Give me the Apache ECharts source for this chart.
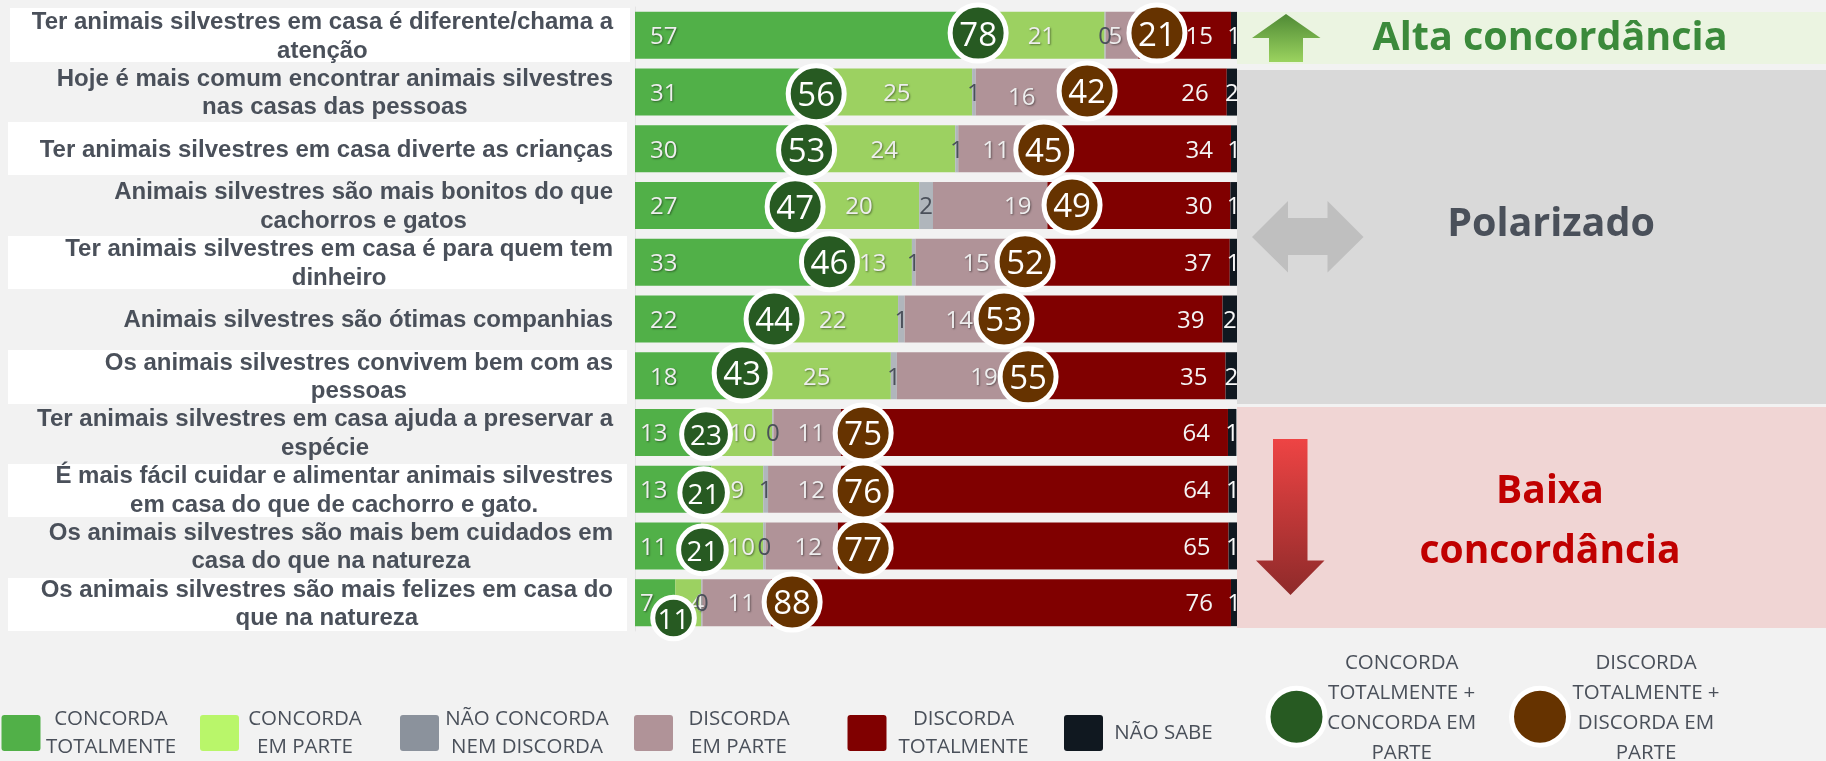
<!DOCTYPE html>
<html><head><meta charset="utf-8">
<style>html,body{margin:0;padding:0;background:#f2f2f2}#c{width:1826px;height:761px}</style>
<script src="https://cdn.jsdelivr.net/npm/echarts@6/dist/echarts.min.js"></script>
</head><body><div id="c"></div>
<script>
const categories = [
  "Ter animais silvestres em casa é diferente/chama a\natenção",
  "Hoje é mais comum encontrar animais silvestres\nnas casas das pessoas",
  "Ter animais silvestres em casa diverte as crianças",
  "Animais silvestres são mais bonitos do que\ncachorros e gatos",
  "Ter animais silvestres em casa é para quem tem\ndinheiro",
  "Animais silvestres são ótimas companhias",
  "Os animais silvestres convivem bem com as\npessoas",
  "Ter animais silvestres em casa ajuda a preservar a\nespécie",
  "É mais fácil cuidar e alimentar animais silvestres\nem casa do que de cachorro e gato.",
  "Os animais silvestres são mais bem cuidados em\ncasa do que na natureza",
  "Os animais silvestres são mais felizes em casa do\nque na natureza"
];
const concordaTotalmente = [57, 31, 29.6, 27.2, 33, 22, 17.9, 13, 12.7, 11, 6.7];
const concordaEmParte    = [21, 25, 23.6, 20, 13, 21.7, 24.6, 9.8, 8.6, 10.3, 4.3];
const naoConcorda        = [0.2, 0.6, 0.5, 2.3, 0.6, 1.1, 1, 0.2, 0.8, 0.4, 0.2];
const discordaEmParte    = [5.4, 15.9, 11.2, 19, 15, 14, 19.4, 11.2, 12.1, 12, 11.4];
const discordaTotalmente = [15.4, 25.8, 34.1, 30.4, 37.2, 38.8, 35.2, 64.3, 64.4, 64.9, 76.4];
const naoSabe            = [1, 1.7, 1, 1.1, 1.2, 2.4, 1.9, 1.4, 1.4, 1.4, 1];
const totalConcorda = [78, 56, 53, 47, 46, 44, 43, 23, 21, 21, 11];
const totalDiscorda = [21, 42, 45, 49, 52, 53, 55, 75, 76, 77, 88];
const circuloConcordaX = [57, 30.1, 28.5, 26.6, 32.3, 23.1, 17.8, 11.8, 11.4, 11.2, 6.4];
const circuloConcordaLinha = [-0.04, 1.03, 2.02, 3.02, 3.99, 5, 5.95, 7.03, 8.06, 9.07, 10.27];
const circuloDiscordaX = [86.7, 75.1, 67.9, 72.6, 64.8, 61.3, 65.3, 37.9, 37.9, 37.9, 26.1];
const circuloDiscordaLinha = [-0.04, 0.98, 2.02, 2.99, 3.99, 5, 6.02, 7.01, 8.03, 9.04, 9.99];
const legendNames = ["CONCORDA\nTOTALMENTE","CONCORDA\nEM PARTE","NÃO CONCORDA\nNEM DISCORDA","DISCORDA\nEM PARTE","DISCORDA\nTOTALMENTE","NÃO SABE"];
const circleLegendNames = ["CONCORDA\nTOTALMENTE +\nCONCORDA EM\nPARTE","DISCORDA\nTOTALMENTE +\nDISCORDA EM\nPARTE"];

const TXT='#4a505a', OS='"Open Sans"';
const shadow={textShadowColor:'rgba(0,0,0,0.45)',textShadowBlur:2,textShadowOffsetX:1,textShadowOffsetY:1};
function barSeries(name,data,color,labelCfg,itemLabel){
  return {type:'bar',name,stack:'t',yAxisIndex:0,xAxisIndex:0,barWidth:47,z:2,
    itemStyle:{color},
    label:Object.assign({show:true,fontFamily:OS,fontSize:24,offset:[0,2],formatter:p=>Math.round(p.value)},labelCfg),
    data:data.map((v,i)=>{const o={value:v};const l=itemLabel&&itemLabel(v,i);if(l)o.label=l;return o;})};
}
function circleSeries(xs,rows,totals,color,sizeFn,fontFn){
  return {type:'scatter',xAxisIndex:0,yAxisIndex:1,z:6,
    data:xs.map((x,i)=>({value:[x,rows[i],totals[i]],label:{fontSize:fontFn(totals[i])}})),
    symbol:'circle',symbolSize:v=>sizeFn(v[2]),
    itemStyle:{color,borderColor:'#fff',borderWidth:5,opacity:1},
    label:{show:true,position:'inside',color:'#fff',fontFamily:OS,offset:[0,3],
      formatter:p=>p.value[2]}};
}
const greenSize=v=>Math.min(56,35+0.6*v);
const brownSize=()=>56;
const greenFont=v=>v>=40?33:28;
const brownFont=()=>33;
const lightLabel=Object.assign({color:'#eeeeee'},shadow);
const series=[
  barSeries('Concorda totalmente',concordaTotalmente,'#51b048',Object.assign({position:'insideLeft',distance:15},lightLabel),
    v=>v<15?{distance:5}:null),
  barSeries('Concorda em parte',concordaEmParte,'#9cd161',Object.assign({position:'inside'},lightLabel),
    (v,i)=>i>=9?{offset:[9,2]}:null),
  barSeries('Não concorda nem discorda',naoConcorda,'#b0b6bc',{position:'inside',color:TXT}),
  barSeries('Discorda em parte',discordaEmParte,'#b09398',Object.assign({position:'insideRight',distance:16},lightLabel),
    (v,i)=>i===1?{distance:36,offset:[0,6]}:null),
  barSeries('Discorda totalmente',discordaTotalmente,'#800000',{position:'insideRight',distance:18,color:'#f4f4f4'}),
  barSeries('Não sabe',naoSabe,'#101820',{position:'inside',color:'#f8f8f8'}),
  circleSeries(circuloConcordaX,circuloConcordaLinha,totalConcorda,'#275a22',greenSize,greenFont),
  circleSeries(circuloDiscordaX,circuloDiscordaLinha,totalDiscorda,'#663300',brownSize,brownFont)
];

const bands=[[10,8,620,54],[8,122,619,53],[8,236,619,53],[8,350,619,54],[8,464,619,53],[8,578,619,53]];
const graphic=[];
bands.forEach(b=>graphic.push({type:'rect',z:0,silent:true,shape:{x:b[0],y:b[1],width:b[2],height:b[3]},style:{fill:'#fff'}}));
graphic.push({type:'rect',z:0,shape:{x:1237,y:12,width:589,height:52},style:{fill:'#ebf4e1'}});
graphic.push({type:'rect',z:0,shape:{x:1237,y:70,width:589,height:334},style:{fill:'#d9d9d9'}});
graphic.push({type:'rect',z:0,shape:{x:1237,y:407,width:589,height:221},style:{fill:'#f0d5d4'}});
const grad=(a,b)=>({type:'linear',x:0,y:0,x2:0,y2:1,colorStops:[{offset:0,color:a},{offset:1,color:b}]});
graphic.push({type:'polygon',z:1,shape:{points:[[1286,14],[1320.5,38],[1303,38],[1303,62],[1269,62],[1269,38],[1252,38]]},style:{fill:grad('#4f8a35','#9bd35f')}});
graphic.push({type:'polygon',z:1,shape:{points:[[1252,237],[1288,201],[1288,218],[1327.5,218],[1327.5,201],[1363.5,237],[1327.5,272.5],[1327.5,255],[1288,255],[1288,272.5]]},style:{fill:'#bfbfbf'}});
graphic.push({type:'polygon',z:1,shape:{points:[[1273,439],[1307.5,439],[1307.5,560.5],[1324.5,560.5],[1290.5,595],[1256,560.5],[1273,560.5]]},style:{fill:grad('#ee4444','#8e2a2a')}});
function txt(x,y,text,size,fill,extra){
  graphic.push({type:'text',z:3,x,y,style:Object.assign({text,fontFamily:OS,fontSize:size,fill,align:'center',verticalAlign:'middle'},extra||{})});
}
txt(1550,39,'Alta concordância',39.5,'#3b8a3b',{fontWeight:'bold'});
txt(1551,225,'Polarizado',39.5,TXT,{fontWeight:'bold'});
txt(1550,522,'Baixa\nconcordância',39,'#c00000',{fontWeight:'bold',lineHeight:60});
const swatchX=[1.5,200,400,634,847.5,1064], textX=[111,305,527,739,963.5,1163.5];
const swatchC=['#51b048','#b9f66a','#8b929c','#b09398','#800000','#101820'];
legendNames.forEach((n,i)=>{
  graphic.push({type:'rect',z:1,shape:{x:swatchX[i],y:715,width:39,height:36,r:3},style:{fill:swatchC[i]}});
  txt(textX[i],733,n,20.5,TXT,{lineHeight:28});
});
[[1296.5,'#275a22',1401.7],[1540,'#663300',1646]].forEach((c,i)=>{
  graphic.push({type:'circle',z:1,shape:{cx:c[0],cy:716.7,r:28.5},style:{fill:c[1],stroke:'#fff',lineWidth:5}});
  txt(c[2],708,circleLegendNames[i],20.5,TXT,{lineHeight:30});
});

const chart=echarts.init(document.getElementById('c'),null,{renderer:'canvas'});
chart.setOption({
  animation:false,backgroundColor:'#f2f2f2',
  grid:{left:635,top:7,width:602,height:624,containLabel:false},
  xAxis:{type:'value',min:0,max:100,show:false},
  yAxis:[
    {type:'category',data:categories,inverse:true,
     axisLine:{show:true,lineStyle:{color:'#e4e4e4'}},axisTick:{show:false},
     axisLabel:{margin:22,fontFamily:'"Liberation Sans"',interval:0,padding:[3,0,0,0],
       formatter:v=>v.split('\n').map(s=>'{l|'+s+'}').join('\n'),
       rich:{l:{align:'center',fontFamily:'"Liberation Sans"',fontWeight:'bold',fontSize:24,color:TXT,lineHeight:28.5}}}},
    {type:'value',min:-0.5,max:10.5,inverse:true,show:false}
  ],
  series,graphic
});
</script></body></html>
